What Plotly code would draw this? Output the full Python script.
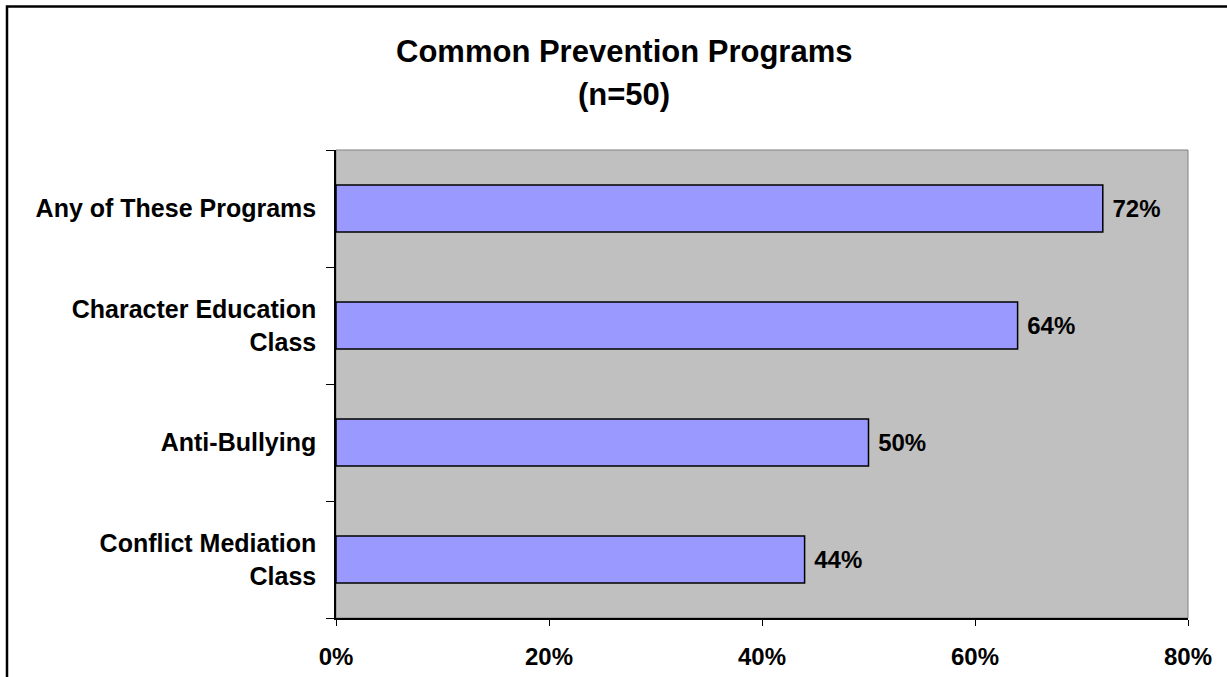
import plotly.graph_objects as go

# Survey results (share of schools), listed bottom to top
programs = [
    "Conflict Mediation<br>Class",
    "Anti-Bullying",
    "Character Education<br>Class",
    "Any of These Programs",
]
shares = [0.44, 0.50, 0.64, 0.72]

x_ticks = [0.0, 0.2, 0.4, 0.6, 0.8]

title_lines = ["Common Prevention Programs", "(n=50)"]

FONT = "Liberation Sans, Arial, sans-serif"

fig = go.Figure(
    go.Bar(
        y=programs,
        x=shares,
        orientation="h",
        width=0.4,
        marker=dict(color="#9999FF", line=dict(color="black", width=1.5)),
        texttemplate=" %{x:.0%}",
        textposition="outside",
        textfont=dict(family=FONT, size=24, color="black", weight="bold"),
        cliponaxis=False,
        hoverinfo="skip",
    )
)

W, H = 1227, 677
L, R, T, B = 336, 39, 150, 59
pw, ph = W - L - R, H - T - B


def px_to_paper_x(px):
    return (px - L) / pw


def px_to_paper_y(py):
    return 1 - (py - T) / ph


title_font = dict(family=FONT, size=31, color="black", weight="bold")
annotations = [
    dict(
        text=line, xref="paper", yref="paper",
        x=px_to_paper_x(624), y=px_to_paper_y(yc),
        xanchor="center", yanchor="middle", showarrow=False,
        font=title_font,
    )
    for line, yc in zip(title_lines, [51, 94])
]

fig.update_layout(
    width=W,
    height=H,
    margin=dict(l=L, r=R, t=T, b=B, autoexpand=False),
    paper_bgcolor="white",
    plot_bgcolor="#C0C0C0",
    showlegend=False,
    annotations=annotations,
    xaxis=dict(
        range=[0, 0.8],
        tickvals=x_ticks,
        tickformat=".0%",
        showgrid=False,
        zeroline=False,
        showline=True,
        linecolor="black",
        linewidth=1.5,
        ticks="outside",
        ticklen=6,
        tickcolor="black",
        tickfont=dict(family=FONT, size=24, color="black", weight="bold"),
        ticklabelstandoff=10,
        automargin=False,
        fixedrange=True,
    ),
    yaxis=dict(
        showgrid=False,
        zeroline=False,
        showline=True,
        linecolor="black",
        linewidth=1.5,
        ticks="outside",
        tickson="boundaries",
        ticklen=8,
        tickcolor="black",
        tickfont=dict(family=FONT, size=25, color="black", weight="bold"),
        ticklabelstandoff=13,
        automargin=False,
        fixedrange=True,
    ),
    shapes=[
        # thin grey frame on the plot area
        dict(
            type="rect", xref="paper", yref="paper", x0=0, x1=1, y0=0, y1=1,
            line=dict(color="#808080", width=1), layer="below",
        ),
        # outer chart border (left and top edges)
        dict(
            type="path", xref="paper", yref="paper",
            path="M {l},{b} L {l},{t} L {r},{t}".format(
                l=px_to_paper_x(7), b=px_to_paper_y(720),
                t=px_to_paper_y(6.5), r=px_to_paper_x(1260),
            ),
            line=dict(color="black", width=2.5),
        ),
    ],
)

fig.write_html("out.html")
